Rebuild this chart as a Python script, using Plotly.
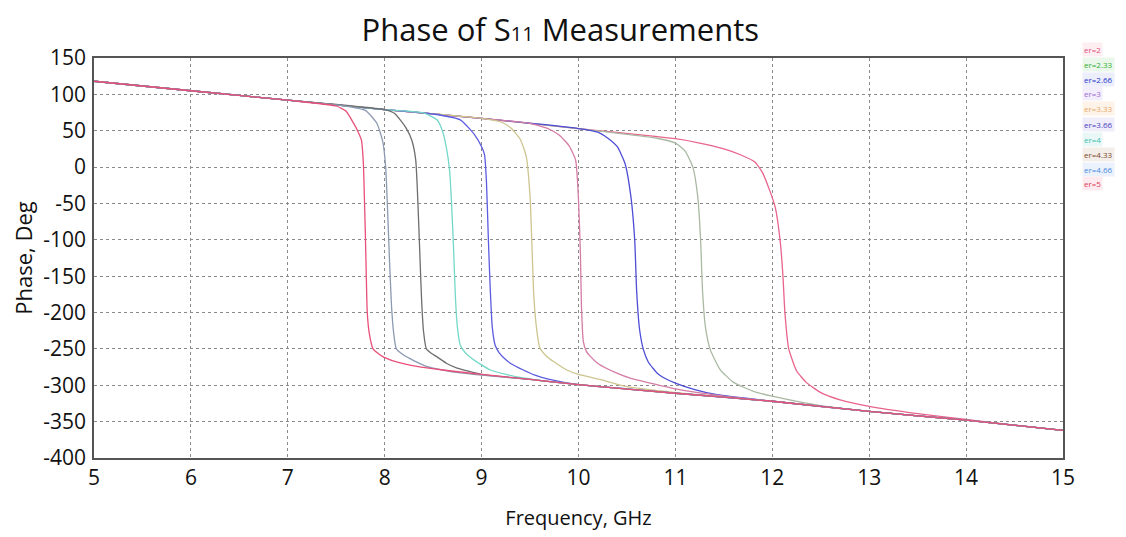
import plotly.graph_objects as go

# frequency (GHz) / phase (deg), one pair of lists per curve
f_er2 = [5, 6, 7, 8, 9, 10, 11, 11.25, 11.5, 11.67, 11.82, 11.9, 11.97, 12.03, 12.08, 12.11, 12.13, 12.17,
         12.25, 12.35, 12.5, 12.7, 13.0, 13.5, 14, 14.5, 15]
p_er2 = [118, 105, 92, 79, 67, 53, 39, 33, 25, 17, 7, -8, -31, -55, -100, -150, -200, -250,
         -280, -296, -310, -320, -329, -339, -347, -355, -362]

f_er233 = [5, 6, 7, 8, 9, 10, 10.5, 10.8, 11.0, 11.1, 11.18, 11.23, 11.26, 11.28, 11.31, 11.36, 11.46,
           11.6, 11.8, 12.0, 12.5, 13, 13.5, 14, 14.5, 15]
p_er233 = [118, 105, 92, 79, 67, 53, 45, 40, 33, 22, 0, -40, -100, -170, -220, -251, -278,
           -296, -308, -315, -328, -336, -342, -348, -355, -362]

f_er266 = [5, 6, 7, 8, 9, 10, 10.2, 10.3, 10.4, 10.48, 10.54, 10.58, 10.6, 10.63, 10.67, 10.72, 10.81,
           10.9, 11.0, 11.2, 11.43, 12, 13, 14, 15]
p_er266 = [118, 105, 92, 79, 67, 53, 48, 40, 28, 5, -40, -100, -170, -223, -251, -268, -283,
           -291, -297, -306, -313, -322, -336, -348, -362]

f_er3 = [5, 6, 7, 8, 9, 9.5, 9.7, 9.8, 9.9, 9.97, 10.0, 10.02, 10.03, 10.05, 10.08, 10.12, 10.2,
         10.39, 10.55, 10.74, 11, 11.5, 12, 13, 14, 15]
p_er3 = [118, 105, 92, 79, 67, 60, 52, 44, 30, 10, -45, -120, -190, -240, -253, -260, -270,
         -283, -291, -297, -305, -315, -322, -336, -348, -362]

f_er333 = [5, 6, 7, 8, 9, 9.2, 9.3, 9.4, 9.46, 9.5, 9.52, 9.54, 9.57, 9.6, 9.67, 9.75, 9.88,
           10.0, 10.22, 10.5, 11, 12, 13, 14, 15]
p_er333 = [118, 105, 92, 79, 67, 62, 54, 38, 15, -40, -110, -180, -225, -248, -260, -268, -279,
           -285, -292, -302, -310, -322, -336, -348, -362]

f_er366 = [5, 6, 7, 8, 8.5, 8.78, 8.93, 9.0, 9.03, 9.05, 9.07, 9.09, 9.11, 9.14, 9.18, 9.22, 9.3,
           9.43, 9.55, 9.7, 10, 10.5, 11, 12, 13, 14, 15]
p_er366 = [118, 105, 92, 79, 73, 65, 44, 28, 17, -20, -100, -170, -220, -245, -255, -261, -270,
           -279, -286, -292, -299, -305, -311, -322, -336, -348, -362]

f_er4 = [5, 6, 7, 8, 8.4, 8.54, 8.6, 8.64, 8.67, 8.69, 8.71, 8.73, 8.75, 8.78, 8.83, 8.88, 9.0,
         9.09, 9.25, 9.43, 9.7, 10, 11, 12, 13, 14, 15]
p_er4 = [118, 105, 92, 79, 74.5, 65, 48, 24, -5, -50, -110, -180, -220, -245, -255, -261, -272,
         -279, -285, -290, -295, -299, -311, -322, -336, -348, -362]

f_er433 = [5, 6, 7, 8, 8.1, 8.16, 8.22, 8.28, 8.32, 8.34, 8.36, 8.38, 8.4, 8.43, 8.48, 8.54, 8.64,
           8.74, 9.0, 9.5, 10, 11, 12, 13, 14, 15]
p_er433 = [118, 105, 92, 79, 74, 65, 54, 37, 10, -40, -110, -180, -225, -250, -256, -261, -270,
           -276, -285, -292, -299, -311, -322, -336, -348, -362]

f_er466 = [5, 6, 7, 7.5, 7.8, 7.92, 7.98, 8.01, 8.03, 8.05, 8.07, 8.09, 8.12, 8.19, 8.3, 8.43, 8.6,
           8.78, 9.0, 9.5, 10, 11, 12, 13, 14, 15]
p_er466 = [118, 105, 92, 85.5, 78, 60, 35, 0, -60, -130, -190, -225, -250, -258, -266, -274, -279,
           -283, -286, -292, -299, -311, -322, -336, -348, -362]

f_er5 = [5, 6, 7, 7.5, 7.6, 7.68, 7.72, 7.76, 7.78, 7.79, 7.80, 7.81, 7.82, 7.84, 7.88, 7.95, 8.0,
         8.15, 8.33, 8.6, 9.0, 9.5, 10, 11, 12, 13, 14, 15]
p_er5 = [118, 105, 92, 84, 77, 60, 50, 37, 5, -40, -90, -150, -200, -228, -250, -258, -262,
         -269, -274, -279, -285, -292, -299, -311, -322, -336, -348, -362]

series_names = ['er=2', 'er=2.33', 'er=2.66', 'er=3', 'er=3.33', 'er=3.66', 'er=4', 'er=4.33', 'er=4.66', 'er=5']
freqs = [f_er2, f_er233, f_er266, f_er3, f_er333, f_er366, f_er4, f_er433, f_er466, f_er5]
phases = [p_er2, p_er233, p_er266, p_er3, p_er333, p_er366, p_er4, p_er433, p_er466, p_er5]

x_ticks = [5, 6, 7, 8, 9, 10, 11, 12, 13, 14, 15]
y_ticks = [150, 100, 50, 0, -50, -100, -150, -200, -250, -300, -350, -400]

line_colors = ['#e8648c', '#a9b9a2', '#4d4dd6', '#d47ca6', '#cdc48e',
               '#5c5ce0', '#74d8c8', '#6e6e6e', '#8c9ab2', '#e8507a']
label_colors = ['#e0507a', '#33b033', '#2a36c8', '#9a6ad8', '#e8a868',
                '#4a40c0', '#40c0b0', '#7a4a2a', '#4a8ae0', '#e03858']
label_bg = ['#fdeef2', '#eaf7ea', '#eceefb', '#f3eefb', '#fdf3e8',
            '#eeedf9', '#e9f8f6', '#f4eeea', '#ebf2fc', '#fdebef']

fig = go.Figure()
for name, fx, py, col in zip(series_names, freqs, phases, line_colors):
    fig.add_trace(go.Scatter(x=fx, y=py, mode='lines', name=name,
                             line=dict(color=col, width=1.3, shape='spline', smoothing=0.5),
                             showlegend=False))

# legend drawn as coloured text at the right, like the original
for i, (name, col, bg) in enumerate(zip(series_names, label_colors, label_bg)):
    fig.add_annotation(x=1.0196, y=(458 - (49 + 15 * i)) / 400, xref='paper', yref='paper',
                       text=name, showarrow=False, xanchor='left', yanchor='middle',
                       font=dict(size=8, color=col), bgcolor=bg, borderpad=1)

axis_common = dict(showgrid=True, gridcolor='#8a8a8a', griddash='dot', gridwidth=1,
                   showline=True, linecolor='#555555', linewidth=1.5, mirror=True,
                   zeroline=False, ticks='', tickfont=dict(size=21, color='#111'))

# the page body has an 8px margin, so the figure is 8px smaller to fit the window
fig.update_layout(
    width=1118, height=529,
    margin=dict(l=86, r=63, t=50, b=79),
    paper_bgcolor='white', plot_bgcolor='white',
    font=dict(family='Open Sans, Lato, sans-serif', color='#111'),
    title=dict(text='Phase of S<span style="font-size:20px">11</span> Measurements',
               x=0.494, xanchor='center', xref='container', y=0.958, yanchor='middle',
               font=dict(size=31, color='#111')),
    xaxis=dict(range=[5, 15], tickvals=x_ticks, ticktext=[str(v) for v in x_ticks],
               title=dict(text='Frequency, GHz', font=dict(size=20), standoff=21),
               **axis_common),
    yaxis=dict(range=[-400, 150], tickvals=y_ticks, ticktext=[str(v) for v in y_ticks],
               ticklabelstandoff=2,
               title=dict(text='Phase, Deg', font=dict(size=22), standoff=6),
               **axis_common),
)

fig.write_html('out.html')
